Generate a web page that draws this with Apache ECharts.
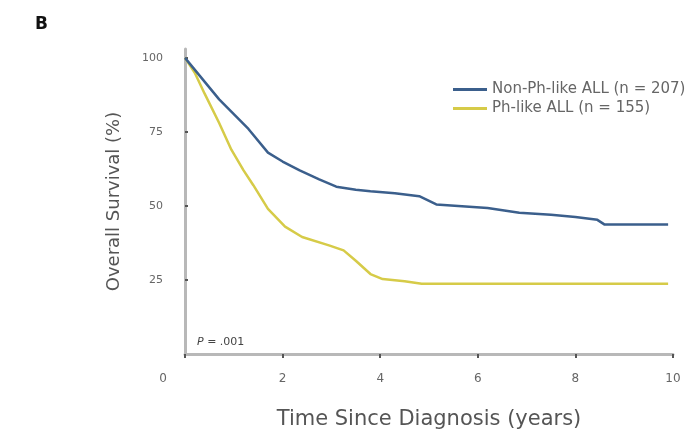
<!DOCTYPE html>
<html>
<head>
<meta charset="utf-8">
<script src="https://cdn.jsdelivr.net/npm/echarts@6/dist/echarts.min.js"></script>
<style>
  html, body { margin: 0; padding: 0; background: #fff; }
  #chart { width: 700px; height: 435px; }
</style>
</head>
<body>
<div id="chart"></div>
<script>
// Kaplan-Meier overall survival, read as [years, percent surviving]
const seriesNames = ['Non-Ph-like ALL (n = 207)', 'Ph-like ALL (n = 155)'];
const nonPhLike = [
  [0, 100], [0.35, 93], [0.7, 86], [1.0, 81], [1.3, 76], [1.7, 68], [2.0, 65],
  [2.35, 62], [2.75, 59], [3.1, 56.5], [3.5, 55.5], [3.8, 55], [4.3, 54.3],
  [4.8, 53.3], [5.15, 50.5], [5.6, 50], [6.2, 49.3], [6.85, 47.7], [7.5, 47],
  [8.0, 46.3], [8.45, 45.3], [8.6, 43.7], [9.9, 43.7]
];
const phLike = [
  [0, 100], [0.2, 95], [0.4, 88], [0.7, 78], [0.95, 69], [1.2, 62], [1.4, 57],
  [1.7, 49], [2.05, 43], [2.4, 39.5], [2.95, 36.7], [3.25, 35], [3.5, 31.5],
  [3.8, 27], [4.05, 25.3], [4.5, 24.6], [4.85, 23.7], [9.9, 23.7]
];
const xTicks = { min: 0, max: 10, step: 2 };
const yTicks = { min: 0, max: 100, step: 25 };

const chart = echarts.init(document.getElementById('chart'), null, { renderer: 'canvas' });

const font = 'DejaVu Sans, Arial, sans-serif';
const axisGray = '#b8b8b8';

chart.setOption({
  backgroundColor: '#ffffff',
  animation: false,
  grid: { left: 185, right: 27, top: 49, bottom: 77, containLabel: false },
  legend: {
    orient: 'vertical',
    left: 448,
    top: 77,
    itemGap: 4,
    itemWidth: 34,
    itemHeight: 3,
    icon: 'rect',
    textStyle: { fontFamily: font, fontSize: 15, color: '#666' },
    data: seriesNames
  },
  xAxis: {
    type: 'value',
    min: xTicks.min,
    max: xTicks.max,
    interval: xTicks.step,
    name: 'Time Since Diagnosis (years)',
    nameLocation: 'middle',
    nameGap: 55,
    nameTextStyle: { fontFamily: font, fontSize: 21, color: '#555' },
    axisLine: { lineStyle: { color: axisGray, width: 3 } },
    axisTick: { length: 4, lineStyle: { color: '#555', width: 2 } },
    splitLine: { show: false },
    axisLabel: {
      margin: 19,
      fontFamily: font,
      fontSize: 12,
      color: '#666',
      formatter: v => v === 0 ? '{z|0}' : String(v),
      rich: { z: { fontFamily: font, fontSize: 12, color: '#666', padding: [0, 44, 0, 0] } }
    }
  },
  yAxis: {
    type: 'value',
    min: yTicks.min,
    max: 103,
    interval: yTicks.step,
    name: 'Overall Survival (%)',
    nameLocation: 'middle',
    nameGap: 62,
    nameRotate: 90,
    nameTextStyle: { fontFamily: font, fontSize: 18, color: '#555' },
    axisLine: { show: true, lineStyle: { color: axisGray, width: 3 } },
    axisTick: {
      show: true, inside: true, length: 3,
      lineStyle: { color: '#555', width: 2 },
      customValues: [25, 50, 75, 100]
    },
    splitLine: { show: false },
    axisLabel: {
      margin: 22,
      fontFamily: font,
      fontSize: 11,
      color: '#666',
      formatter: v => (v % yTicks.step === 0 && v > 0) ? String(v) : ''
    }
  },
  graphic: [
    {
      type: 'text', left: 35, top: 16,
      style: { text: 'B', font: 'bold 17px ' + font, fill: '#111' }
    },
    {
      type: 'text', left: 197, top: 337,
      style: { text: '{i|P} = .001', rich: { i: { font: 'italic 11px ' + font, fill: '#444' } }, font: '11px ' + font, fill: '#444' }
    }
  ],
  series: [
    {
      name: seriesNames[0],
      type: 'line',
      data: nonPhLike,
      showSymbol: false,
      color: '#3b5f8c',
      lineStyle: { width: 2.5, color: '#3b5f8c' },
      z: 3
    },
    {
      name: seriesNames[1],
      type: 'line',
      data: phLike,
      showSymbol: false,
      color: '#d6cb48',
      lineStyle: { width: 2.5, color: '#d6cb48' },
      z: 2
    }
  ]
});
</script>
</body>
</html>
